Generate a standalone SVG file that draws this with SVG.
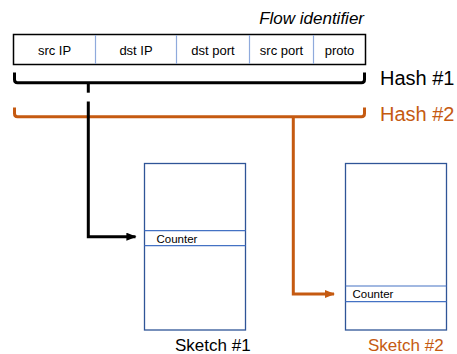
<svg xmlns="http://www.w3.org/2000/svg" width="457" height="354" viewBox="0 0 457 354">
  <style>
    text { font-family: "Liberation Sans", Arial, sans-serif; }
    .field { font-size: 13px; fill: #000; text-anchor: middle; }
    .cell { font-size: 11.5px; fill: #000; }
    .frame { fill: #fff; stroke: #000; stroke-width: 1.5; }
    .divider { stroke: #8FAADC; stroke-width: 1.2; }
    .sketch { fill: #fff; stroke: #2F5597; stroke-width: 1.3; }
    .row { stroke: #4472C4; stroke-width: 1.2; }
    .black { fill: none; stroke: #000; stroke-width: 3; }
    .orange { fill: none; stroke: #C55A11; stroke-width: 3; }
  </style>
  <defs>
    <marker id="arrow-black" viewBox="0 0 10 8" refX="9" refY="4" markerWidth="3.4" markerHeight="2.7" orient="auto" markerUnits="strokeWidth">
      <path d="M0,0 L10,4 L0,8 z" fill="#000"/>
    </marker>
    <marker id="arrow-orange" viewBox="0 0 10 8" refX="9" refY="4" markerWidth="3.4" markerHeight="2.7" orient="auto" markerUnits="strokeWidth">
      <path d="M0,0 L10,4 L0,8 z" fill="#C55A11"/>
    </marker>
  </defs>

  <!-- flow identifier fields -->
  <g id="flow-identifier">
    <text x="364" y="24" font-size="17" font-style="italic" text-anchor="end">Flow identifier</text>
    <rect class="frame" x="13.5" y="34.5" width="352" height="30"/>
    <line class="divider" x1="95.5" y1="35" x2="95.5" y2="64"/>
    <line class="divider" x1="176.5" y1="35" x2="176.5" y2="64"/>
    <line class="divider" x1="249.5" y1="35" x2="249.5" y2="64"/>
    <line class="divider" x1="313.5" y1="35" x2="313.5" y2="64"/>
    <text class="field" x="54.5" y="54.5">src IP</text>
    <text class="field" x="136" y="54.5">dst IP</text>
    <text class="field" x="213" y="54.5">dst port</text>
    <text class="field" x="281.5" y="54.5">src port</text>
    <text class="field" x="339.5" y="54.5">proto</text>
  </g>

  <!-- hash labels -->
  <g id="hash1-label">
    <text x="380" y="85" font-size="20" fill="#000">Hash #1</text>
  </g>
  <g id="hash2-label">
    <text x="380" y="121" font-size="20" fill="#C55A11">Hash #2</text>
  </g>

  <!-- sketch tables -->
  <g id="sketch1">
    <rect class="sketch" x="144.5" y="163.5" width="101" height="166.5"/>
    <line class="row" x1="144.5" y1="230.7" x2="245.5" y2="230.7"/>
    <line class="row" x1="144.5" y1="245.7" x2="245.5" y2="245.7"/>
    <text class="cell" x="156.5" y="242.5">Counter</text>
    <text x="175" y="351" font-size="17" fill="#000">Sketch #1</text>
  </g>
  <g id="sketch2">
    <rect class="sketch" x="345.5" y="163.5" width="101" height="166.5"/>
    <line class="row" x1="345.5" y1="286" x2="446.5" y2="286"/>
    <line class="row" x1="345.5" y1="301.7" x2="446.5" y2="301.7"/>
    <text class="cell" x="352.5" y="298">Counter</text>
    <text x="368" y="351" font-size="17" fill="#C55A11">Sketch #2</text>
  </g>

  <!-- connectors: hash braces and arrows into the sketches -->
  <g id="connectors">
    <path class="orange" d="M14.5,107.5 V113.5 Q14.5,116.7 17.5,116.7 H361.5 Q364.5,116.7 364.5,113.5 V107.5"/>
    <path class="orange" d="M293.3,116.7 V294 H334" marker-end="url(#arrow-orange)"/>
    <path class="black" d="M14.5,72.5 V79.5 Q14.5,82.7 17.5,82.7 H361.5 Q364.5,82.7 364.5,79.5 V72.5"/>
    <path class="black" d="M88.3,82.7 V92.7"/>
    <path class="black" d="M88.3,101.5 V236.7 H135.5" marker-end="url(#arrow-black)"/>
  </g>
</svg>
